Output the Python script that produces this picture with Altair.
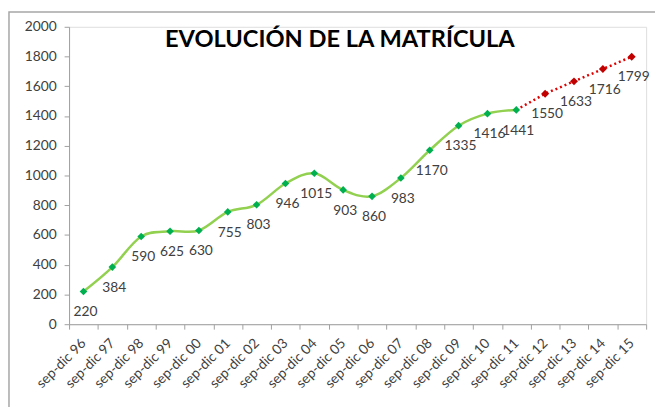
import altair as alt
import pandas as pd

categories = ["sep-dic 96", "sep-dic 97", "sep-dic 98", "sep-dic 99", "sep-dic 00",
              "sep-dic 01", "sep-dic 02", "sep-dic 03", "sep-dic 04", "sep-dic 05",
              "sep-dic 06", "sep-dic 07", "sep-dic 08", "sep-dic 09", "sep-dic 10",
              "sep-dic 11", "sep-dic 12", "sep-dic 13", "sep-dic 14", "sep-dic 15"]
actual_values = [220, 384, 590, 625, 630, 755, 803, 946, 1015, 903, 860, 983,
                 1170, 1335, 1416, 1441]
projected_values = [1550, 1633, 1716, 1799]
y_ticks = [0, 200, 400, 600, 800, 1000, 1200, 1400, 1600, 1800, 2000]
title_text = ["EVOLUCIÓN DE LA MATRÍCULA"]

n_act = len(actual_values)
actual = pd.DataFrame({"cat": categories[:n_act], "v": actual_values})
projected = pd.DataFrame({"cat": categories[n_act:], "v": projected_values})
proj_line = pd.DataFrame({"cat": categories[n_act - 1:],
                          "v": [actual_values[-1]] + projected_values})
single = pd.DataFrame({"t": title_text})

FONT = "Lato"
W, H = 586, 302
x = alt.X("cat:N", sort=categories, title=None,
          scale=alt.Scale(paddingInner=0, paddingOuter=0),
          axis=alt.Axis(labelAngle=-45, labelAlign="right", labelBaseline="middle",
                        labelFontSize=14, labelColor="#404040", labelFont=FONT,
                        tickBand="extent", tickSize=5, tickColor="#A0A0A0",
                        domainColor="#A0A0A0", labelPadding=12))
y = alt.Y("v:Q", title=None,
          scale=alt.Scale(domain=[0, 2000], nice=False, zero=True),
          axis=alt.Axis(values=y_ticks, grid=False, format="d",
                        labelFontSize=14, labelColor="#404040", labelFont=FONT,
                        tickSize=5, tickColor="#A0A0A0", domainColor="#A0A0A0",
                        labelPadding=8))

green_line = alt.Chart(actual).mark_line(
    interpolate="cardinal", color="#92D050", strokeWidth=2.5).encode(x=x, y=y)
green_pts = alt.Chart(actual).mark_point(
    shape="diamond", filled=True, color="#00B050", size=60, opacity=1).encode(x=x, y=y)
green_lbl = alt.Chart(actual).mark_text(
    dy=21, dx=2, fontSize=14, color="#404040", font=FONT).encode(
    x=x, y=y, text="v:Q")

red_line = alt.Chart(proj_line).mark_line(
    color="#E00000", strokeWidth=2.5, strokeDash=[2, 3]).encode(x=x, y=y)
red_pts = alt.Chart(projected).mark_point(
    shape="diamond", filled=True, color="#C00000", size=65, opacity=1).encode(x=x, y=y)
red_lbl = alt.Chart(projected).mark_text(
    dy=21, dx=2, fontSize=14, color="#404040", font=FONT).encode(
    x=x, y=y, text="v:Q")

title = alt.Chart(single).mark_text(
    fontSize=24, fontWeight="bold", font=FONT, color="#000000",
    align="center", baseline="middle").encode(
    x=alt.value(275), y=alt.value(14), text="t:N")

frame = alt.Chart(single).mark_rect(
    fill=None, stroke="#A6A6A6", strokeWidth=1.5).encode(
    x=alt.value(-61), x2=alt.value(700), y=alt.value(-15), y2=alt.value(500))

chart = alt.layer(frame, green_line, red_line, green_pts, red_pts, green_lbl, red_lbl,
                  title).properties(
    width=W, height=H,
    autosize=alt.AutoSizeParams(type="none"),
    padding={"left": 62, "top": 16, "right": 9, "bottom": 81},
).configure_view(stroke=None).configure(background="white")

chart.save("out.html", embed_options={"renderer": "svg", "actions": False})
